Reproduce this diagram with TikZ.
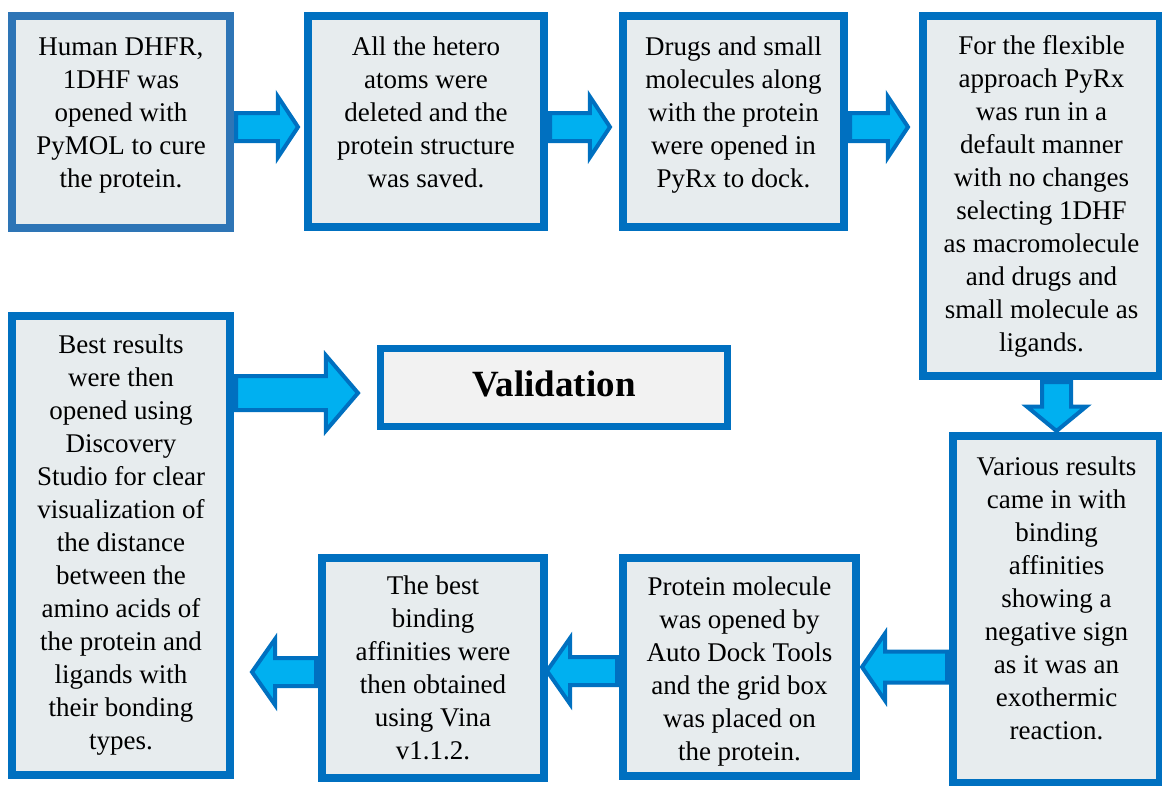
\documentclass[tikz,border=0pt]{standalone}
\usepackage{fontspec}
\setmainfont{Liberation Serif}
\usetikzlibrary{shapes.arrows,calc,positioning}
\definecolor{boxblue}{RGB}{0,112,192}
\definecolor{boxblueone}{RGB}{46,117,182}
\definecolor{boxfill}{RGB}{231,236,238}
\definecolor{valfill}{RGB}{242,242,242}
\definecolor{arrowcyan}{RGB}{0,176,240}

\begin{document}
\begin{tikzpicture}[x=1pt, y=-1pt,
  stepbox/.style={draw=boxblue, fill=boxfill, line width=8pt, align=center,
    inner sep=0pt, font=\rmfamily\fontsize{27}{33}\selectfont},
  fatarrow/.style={single arrow, draw=boxblue, fill=arrowcyan, line width=4pt,
    inner xsep=0pt, anchor=tail}]
  \useasboundingbox (0,0) rectangle (1162,785);

  % Top row
  \node[stepbox, draw=boxblueone, minimum width=218, minimum height=212, text depth=18] (b1) at (121,122)
    {Human DHFR,\\ 1DHF was\\ opened with\\ PyMOL to cure\\ the protein.};
  \node[stepbox, minimum width=236, minimum height=211, text depth=18] (b2) at (426,121.5)
    {All the hetero\\ atoms were\\ deleted and the\\ protein structure\\ was saved.};
  \node[stepbox, minimum width=221, minimum height=211, text depth=18] (b3) at (733.5,121.5)
    {Drugs and small\\ molecules along\\ with the protein\\ were opened in\\ PyRx to dock.};
  \node[stepbox, minimum width=237, minimum height=360] (b4) at (1041.5,196)
    {For the flexible\\ approach PyRx\\ was run in a\\ default manner\\ with no changes\\
     selecting 1DHF\\ as macromolecule\\ and drugs and\\ small molecule as\\ ligands.};

  % Validation
  \node[stepbox, fill=valfill, line width=7pt, minimum width=347, minimum height=78, text depth=7,
    font=\rmfamily\bfseries\fontsize{37}{40}\selectfont] (b5) at (554,387.5) {Validation};

  % Bottom row
  \node[stepbox, minimum width=218, minimum height=459] (b6) at (121,545.5)
    {Best results\\ were then\\ opened using\\ Discovery\\ Studio for clear\\ visualization of\\
     the distance\\ between the\\ amino acids of\\ the protein and\\ ligands with\\ their bonding\\ types.};
  \node[stepbox, minimum width=222, minimum height=220] (b7) at (433,668)
    {The best\\ binding\\ affinities were\\ then obtained\\ using Vina\\ v1.1.2.};
  \node[stepbox, minimum width=233, minimum height=218, text height=193.5] (b8) at (739.5,667)
    {Protein molecule\\ was opened by\\ Auto Dock Tools\\ and the grid box\\ was placed on\\ the protein.};
  \node[stepbox, minimum width=207, minimum height=347, text depth=22] (b9) at (1056.5,609.5)
    {Various results\\ came in with\\ binding\\ affinities\\ showing a\\ negative sign\\ as it was an\\ exothermic\\ reaction.};

  % Block arrows
  \node[fatarrow, minimum height=62, inner ysep=12, single arrow head extend=16.5,
    single arrow tip angle=113] (a12) at ([yshift=-5pt]b1.east) {};
  \node[fatarrow, minimum height=60, inner ysep=12, single arrow head extend=16.5,
    single arrow tip angle=113] (a23) at ([yshift=-5.5pt]b2.east) {};
  \node[fatarrow, minimum height=58, inner ysep=12, single arrow head extend=16.5,
    single arrow tip angle=113] (a34) at ([yshift=-5.5pt]b3.east) {};
  \node[fatarrow, minimum height=122, inner ysep=15, single arrow head extend=20.5,
    single arrow tip angle=99] (a65) at ($(b6.east |- b5.west)+(0,5.5)$) {};
  \node[fatarrow, rotate=-90, minimum height=49, inner ysep=12.5, single arrow head extend=15,
    single arrow tip angle=101] (a49) at (b9.north |- b4.south) {};
  \node[fatarrow, rotate=180, minimum height=85, inner ysep=13.5, single arrow head extend=18,
    single arrow tip angle=111] (a98) at (b9.west |- b8.east) {};
  \node[fatarrow, rotate=180, minimum height=70, inner ysep=12, single arrow head extend=19,
    single arrow tip angle=110] (a87) at ($(b8.west)+(0,4)$) {};
  \node[fatarrow, rotate=180, minimum height=64, inner ysep=12, single arrow head extend=19,
    single arrow tip angle=110] (a76) at ($(b7.west)+(0,4)$) {};
\end{tikzpicture}
\end{document}
